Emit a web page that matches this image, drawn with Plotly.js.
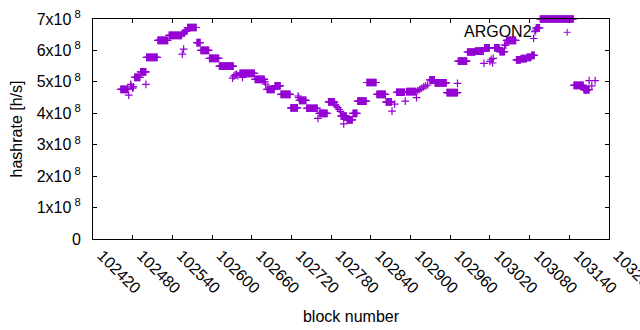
<!DOCTYPE html>
<html>
<head>
<meta charset="utf-8">
<script src="https://cdn.plot.ly/plotly-3.0.1.min.js"></script>
<style>html,body{margin:0;padding:0;background:#fff;overflow:hidden;}#chart{width:640px;height:330px;}</style>
</head>
<body>
<div id="chart"></div>
<script>
// Runs of consecutive blocks sharing the same hashrate (value in units of 1e8 h/s)
const runStart = [102462,102483,102492,102501,102518,102535,102556,102559,102563,102577,102583,102596,102611,102642,102665,102683,102695,102704,102719,102732,102743,102762,102776,102795,102804,102813,102820,102834,102849,102863,102879,102894,102929,102937,102955,102972,102986,102998,103012,103027,103035,103045,103060,103067,103076,103083,103090,103096,103147,103162];
const runEnd   = [102473,102491,102500,102517,102533,102554,102558,102562,102576,102582,102595,102610,102632,102664,102679,102694,102703,102718,102729,102742,102759,102774,102785,102803,102812,102819,102833,102848,102862,102871,102891,102908,102936,102954,102971,102985,102997,103010,103019,103034,103042,103059,103066,103075,103082,103087,103095,103146,103161,103170];
const runValue = [4.76,5.14,5.32,5.78,6.32,6.48,6.55,6.62,6.73,6.25,6.00,5.75,5.50,5.27,5.08,4.76,4.87,4.60,4.17,4.41,4.16,4.00,4.36,3.91,3.79,4.00,4.39,4.98,4.60,4.36,4.67,4.69,5.06,4.97,4.66,5.66,5.95,5.98,6.08,6.08,5.96,6.32,5.70,5.74,5.78,5.84,6.72,7.00,4.89,4.75];

// Isolated blocks
const ptBlock = [102474,102477,102478,102480,102481,102500,102555,102557,102631,102633,102635,102637,102639,102646,102680,102681,102730,102731,102760,102786,102788,102790,102792,102794,102799,102872,102876,102892,102909,102911,102914,102917,102920,102923,102926,102971,103011,103020,103022,103024,103025,103042,103044,103086,103088,103089,103165,103170,103174,103179];
const ptValue = [4.58,4.92,4.86,4.80,4.84,4.92,5.88,6.04,5.12,5.18,5.22,5.24,5.20,5.14,5.00,4.93,4.55,4.50,3.84,4.28,4.23,4.18,4.12,4.06,3.66,4.07,4.29,4.39,4.50,4.72,4.76,4.80,4.84,4.87,4.90,4.95,5.59,5.65,5.72,5.60,5.75,6.17,6.17,6.38,6.60,6.65,4.74,5.04,4.87,5.04];

const xTickVals = [102420,102480,102540,102600,102660,102720,102780,102840,102900,102960,103020,103080,103140,103200];
const yTickVals = [0,1e8,2e8,3e8,4e8,5e8,6e8,7e8];
const yTickText = ['0','1x10&#8201;<sup>8</sup>','2x10&#8201;<sup>8</sup>','3x10&#8201;<sup>8</sup>','4x10&#8201;<sup>8</sup>','5x10&#8201;<sup>8</sup>','6x10&#8201;<sup>8</sup>','7x10&#8201;<sup>8</sup>'];
const seriesName = 'ARGON2';

const xs = [], ys = [];
for (let i = 0; i < runStart.length; i++) {
  for (let b = runStart[i]; b <= runEnd[i]; b++) { xs.push(b); ys.push(runValue[i] * 1e8); }
}
for (let i = 0; i < ptBlock.length; i++) { xs.push(ptBlock[i]); ys.push(ptValue[i] * 1e8); }

const color = '#9400d3';
const font = {family: 'Liberation Sans, Arial, sans-serif', size: 16, color: '#000'};

// legend key: text then sample point (gnuplot style), in paper coords
const kx = 0.919, ky = 0.9395, hx = 3.5/516, hy = 3.5/220;

const layout = {
  width: 640, height: 330,
  margin: {l: 93, r: 31, t: 19, b: 91},
  paper_bgcolor: '#fff', plot_bgcolor: '#fff',
  font: font,
  showlegend: false,
  xaxis: {
    range: [102420, 103200], tickmode: 'array', tickvals: xTickVals, ticktext: xTickVals.map(String),
    tickangle: 45, ticks: 'inside', ticklen: 4, tickcolor: '#000',
    ticklabeloverflow: 'allow', ticklabelshift: 9,
    showline: true, linecolor: '#000', linewidth: 1, mirror: 'ticks',
    showgrid: false, zeroline: false, tickfont: font,
    title: {text: 'block number', font: font, standoff: 14}
  },
  yaxis: {
    range: [0, 7e8], tickmode: 'array', tickvals: yTickVals, ticktext: yTickText,
    ticks: 'inside', ticklen: 4, tickcolor: '#000',
    showline: true, linecolor: '#000', linewidth: 1, mirror: 'ticks',
    showgrid: false, zeroline: false, tickfont: font, ticklabelstandoff: 8,
    title: {text: 'hashrate [h/s]', font: font, standoff: 10}
  },
  annotations: [{
    xref: 'paper', yref: 'paper', x: 0.855, y: 0.945, xanchor: 'right', yanchor: 'middle',
    text: seriesName, showarrow: false, font: font
  }],
  shapes: [
    {type: 'line', xref: 'paper', yref: 'paper', x0: kx - hx, x1: kx + hx, y0: ky, y1: ky, line: {color: color, width: 1}},
    {type: 'line', xref: 'paper', yref: 'paper', x0: kx, x1: kx, y0: ky - hy, y1: ky + hy, line: {color: color, width: 1}}
  ]
};

Plotly.newPlot('chart', [{
  type: 'scatter', mode: 'markers', x: xs, y: ys, name: seriesName,
  cliponaxis: false,
  marker: {symbol: 'cross-thin', size: 5.5, color: color, line: {color: color, width: 1.2}}
}], layout, {staticPlot: true, displayModeBar: false});
</script>
</body>
</html>
